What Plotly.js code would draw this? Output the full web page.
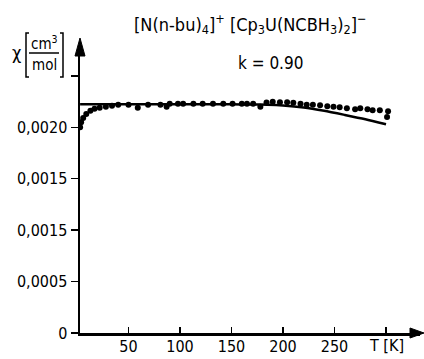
<!DOCTYPE html>
<html>
<head>
<meta charset="utf-8">
<script src="https://cdn.plot.ly/plotly-3.0.1.min.js"></script>
<style>html,body{margin:0;padding:0;background:#fff;}#chart{width:424px;height:359px;}</style>
</head>
<body>
<div id="chart"></div>
<script>
// Measured susceptibility (dots)
const T_meas = [3, 4, 6, 9, 13, 17, 22, 28, 34, 40, 50, 59, 69, 81, 87, 90, 98, 103, 113, 122, 132, 142, 151, 160, 165, 171, 178, 184, 190, 197, 204, 210, 217, 223, 229, 236, 243, 249, 255, 262, 270, 275, 282, 287, 294, 302, 301];
const chi_meas = [0.00200, 0.00205, 0.00209, 0.00213, 0.00216, 0.00218, 0.00219, 0.00220, 0.00221, 0.00222, 0.00222, 0.00219, 0.00222, 0.00222, 0.00220, 0.00223, 0.00223, 0.00223, 0.00223, 0.00223, 0.00223, 0.00223, 0.00223, 0.00223, 0.00223, 0.00223, 0.00220, 0.00224, 0.002248, 0.002243, 0.002243, 0.002238, 0.00223, 0.00222, 0.002218, 0.002214, 0.002204, 0.002199, 0.002194, 0.002184, 0.002175, 0.002184, 0.002175, 0.002165, 0.002165, 0.002155, 0.00210];
// Calculated curve (k = 0.90)
const T_calc = [3, 50, 100, 150, 170, 185, 200, 220, 240, 260, 280, 300];
const chi_calc = [0.002223, 0.002223, 0.002223, 0.002223, 0.002222, 0.002219, 0.002212, 0.002193, 0.00216, 0.00212, 0.002078, 0.002029];
// Ticks
const xTickVals = [50, 100, 150, 200, 250, 300];
const xTickText = ['50', '100', '150', '200', '250', ''];
const yTickVals = [0, 0.0005, 0.0010, 0.0015, 0.0020, 0.0025];
const yTickText = ['0', '0,0005', '0,0015', '0,0015', '0,0020', ''];

const FONT = '"DejaVu Sans Condensed", "Liberation Sans Narrow", "DejaVu Sans", sans-serif';

const traces = [
  {x: T_calc, y: chi_calc, mode: 'lines', line: {color: '#000', width: 2.5, shape: 'spline', smoothing: 0.6}, hoverinfo: 'skip'},
  {x: T_meas, y: chi_meas, mode: 'markers', marker: {color: '#000', size: 6}, hoverinfo: 'skip'}
];

const px = v => (v - 80) / 340;   // pixel x -> paper x
const py = v => (333 - v) / 288;  // pixel y -> paper y

const layout = {
  width: 424, height: 359,
  margin: {l: 80, r: 4, t: 45, b: 26},
  paper_bgcolor: '#fff', plot_bgcolor: '#fff',
  showlegend: false,
  font: {family: FONT, size: 16, color: '#000'},
  xaxis: {
    range: [2.9, 333], showgrid: false, zeroline: false,
    showline: true, linecolor: '#000', linewidth: 2.5,
    ticks: 'inside', ticklen: 6, tickwidth: 1.5, tickcolor: '#000',
    tickvals: xTickVals, ticktext: xTickText,
    tickfont: {family: FONT, size: 16}, ticklabelstandoff: -3
  },
  yaxis: {
    range: [0, 0.0028], showgrid: false, zeroline: false,
    showline: true, linecolor: '#000', linewidth: 2.5,
    ticks: 'outside', ticklen: 7, tickwidth: 1.5, tickcolor: '#000',
    tickvals: yTickVals, ticktext: yTickText,
    tickfont: {family: FONT, size: 16}
  },
  shapes: [
    // y-axis arrowhead
    {type: 'path', xref: 'paper', yref: 'paper', path: `M ${px(75)} ${py(56)} L ${px(80)} ${py(38)} L ${px(85)} ${py(56)} Z`, fillcolor: '#000', line: {color: '#000', width: 1}},
    // x-axis arrowhead
    {type: 'path', xref: 'paper', yref: 'paper', path: `M ${px(410)} ${py(328)} L ${px(424)} ${py(333)} L ${px(410)} ${py(338)} Z`, fillcolor: '#000', line: {color: '#000', width: 1}},
    // fraction bar
    {type: 'line', xref: 'paper', yref: 'paper', x0: px(29), x1: px(59), y0: py(53), y1: py(53), line: {color: '#000', width: 1.5}},
    // left bracket
    {type: 'path', xref: 'paper', yref: 'paper', path: `M ${px(29)} ${py(33)} L ${px(26)} ${py(33)} L ${px(26)} ${py(77)} L ${px(29)} ${py(77)}`, line: {color: '#000', width: 1.5}},
    // right bracket
    {type: 'path', xref: 'paper', yref: 'paper', path: `M ${px(60)} ${py(33)} L ${px(63)} ${py(33)} L ${px(63)} ${py(77)} L ${px(60)} ${py(77)}`, line: {color: '#000', width: 1.5}}
  ],
  annotations: [
    {xref: 'paper', yref: 'paper', x: px(250), y: py(24), showarrow: false, xanchor: 'center', yanchor: 'middle',
     text: '[N(n-bu)<sub>4</sub>]<sup>+</sup> [Cp<sub>3</sub>U(NCBH<sub>3</sub>)<sub>2</sub>]<sup>−</sup>', font: {family: FONT, size: 18}},
    {xref: 'paper', yref: 'paper', x: px(270), y: py(63), showarrow: false, xanchor: 'center', yanchor: 'middle',
     text: 'k = 0.90', font: {family: FONT, size: 17}},
    {xref: 'paper', yref: 'paper', x: px(16), y: py(52), showarrow: false, xanchor: 'center', yanchor: 'middle',
     text: 'χ', font: {family: FONT, size: 18}},
    {xref: 'paper', yref: 'paper', x: px(44), y: py(43), showarrow: false, xanchor: 'center', yanchor: 'middle',
     text: 'cm<sup>3</sup>', font: {family: FONT, size: 15}},
    {xref: 'paper', yref: 'paper', x: px(44), y: py(65), showarrow: false, xanchor: 'center', yanchor: 'middle',
     text: 'mol', font: {family: FONT, size: 15}},
    {xref: 'paper', yref: 'paper', x: px(386), y: py(345), showarrow: false, xanchor: 'center', yanchor: 'middle',
     text: 'T [K]', font: {family: FONT, size: 16}}
  ]
};

Plotly.newPlot('chart', traces, layout, {staticPlot: true, displayModeBar: false});
</script>
</body>
</html>
